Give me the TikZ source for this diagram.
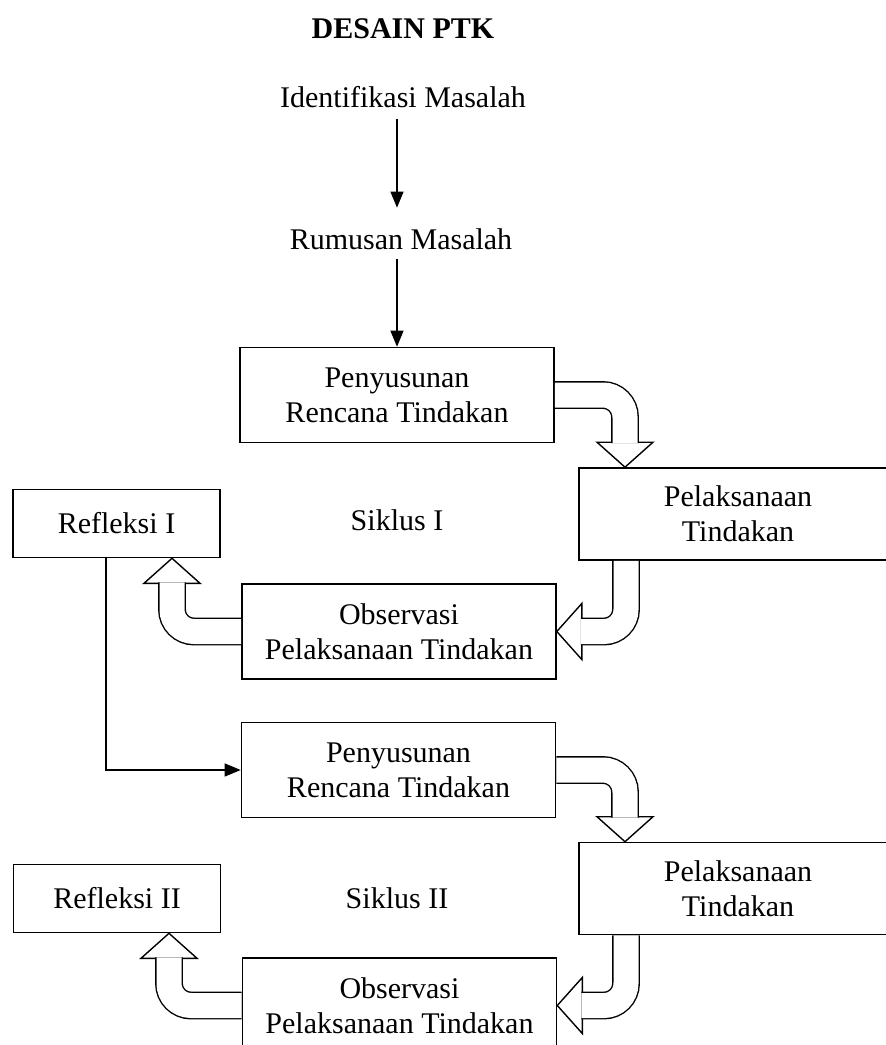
\documentclass[tikz,border=0pt]{standalone}
\usepackage{fontspec}
\setmainfont{Liberation Serif}
\usetikzlibrary{arrows.meta,calc}

\begin{document}
\begin{tikzpicture}[x=1pt,y=-1pt,
    every node/.style={font=\fontsize{30}{35}\selectfont},
    box/.style={draw,line width=1.6pt,minimum width=314pt,minimum height=95pt,align=center,inner sep=0pt},
    refbox/.style={box,minimum width=207pt,minimum height=68pt},
    thinarrow/.style={line width=1.3pt,-{Triangle[length=16pt,width=13pt]}},
    shaft/.style={line width=1.4pt,double=white,double distance=25pt,rounded corners=22pt}]
    \tikzstyle{head}=[draw,line width=1.4pt,fill=white]
    \useasboundingbox (0,0) rectangle (886,1045);
    \clip (0,0) rectangle (886,1045);

    % judul dan masalah
    \node[anchor=base,font=\fontsize{30}{35}\selectfont\bfseries] (judul) at (403,38) {DESAIN PTK};
    \node[anchor=base] (idm) at (403,107) {Identifikasi Masalah};
    \node[anchor=base] (rum) at (401,249) {Rumusan Masalah};

    % siklus I
    \node[box] (pen1) at (397,395) {Penyusunan\\Rencana Tindakan};
    \node[box,minimum width=318pt,minimum height=92pt] (pel1) at (738,514) {Pelaksanaan\\Tindakan};
    \node[box] (obs1) at (399,631.5) {Observasi\\Pelaksanaan Tindakan};
    \node[refbox] (ref1) at (116.5,523.5) {Refleksi I};
    \node[anchor=base] (sik1) at (397,530) {Siklus I};

    % siklus II
    \node[box] (pen2) at (398.5,770) {Penyusunan\\Rencana Tindakan};
    \node[box,minimum width=318pt,minimum height=92pt] (pel2) at (738,888.5) {Pelaksanaan\\Tindakan};
    \node[box] (obs2) at (399.5,1005.5) {Observasi\\Pelaksanaan Tindakan};
    \node[refbox] (ref2) at (117,898.5) {Refleksi II};
    \node[anchor=base] (sik2) at (397,908) {Siklus II};

    \draw[thinarrow,shorten <=8pt] (idm.south -| pen1.north) -- ([yshift=17pt]rum.north -| pen1.north);
    \draw[thinarrow,shorten <=6pt] (rum.south -| pen1.north) -- (pen1.north);
    \draw[thinarrow] ([xshift=-10.5pt]ref1.south) |- (pen2.west);

    % panah blok siklus I
    \coordinate (a1) at ([xshift=-113pt]pel1.north);
    \draw[head] (a1) -- ++(-28,-25) -- ++(56,0) -- cycle;
    \draw[shaft] (pen1.east) -| ($(a1)+(0,-24)$);
    \coordinate (b1) at (obs1.east);
    \draw[head] (b1) -- ++(25,-28) -- ++(0,56) -- cycle;
    \draw[shaft] ([xshift=-112pt]pel1.south) |- ($(b1)+(24,0)$);
    \coordinate (c1) at ([xshift=55.5pt]ref1.south);
    \draw[head] (c1) -- ++(-28,25) -- ++(56,0) -- cycle;
    \draw[shaft] (obs1.west) -| ($(c1)+(0,24)$);

    % panah blok siklus II
    \coordinate (a2) at ([xshift=-113pt]pel2.north);
    \draw[head] (a2) -- ++(-28,-25) -- ++(56,0) -- cycle;
    \draw[shaft] (pen2.east) -| ($(a2)+(0,-24)$);
    \coordinate (b2) at (obs2.east);
    \draw[head] (b2) -- ++(25,-28) -- ++(0,56) -- cycle;
    \draw[shaft] ([xshift=-112pt]pel2.south) |- ($(b2)+(24,0)$);
    \coordinate (c2) at ([xshift=52pt]ref2.south);
    \draw[head] (c2) -- ++(-28,25) -- ++(56,0) -- cycle;
    \draw[shaft] (obs2.west) -| ($(c2)+(0,24)$);
\end{tikzpicture}
\end{document}
